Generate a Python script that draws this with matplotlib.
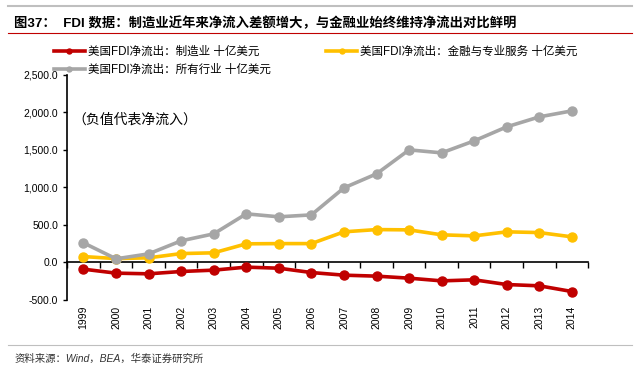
import numpy as np
import matplotlib.pyplot as plt
from matplotlib.lines import Line2D

plt.rcParams["font.family"] = ["Liberation Sans", "Noto Sans CJK SC"]
plt.rcParams["axes.unicode_minus"] = False

years = ["1999", "2000", "2001", "2002", "2003", "2004", "2005", "2006",
         "2007", "2008", "2009", "2010", "2011", "2012", "2013", "2014"]
manufacturing = [-91, -144, -153, -122, -104, -64, -78, -136,
                 -171, -184, -211, -247, -233, -296, -313, -389]
finance = [77, 50, 60, 117, 127, 247, 250, 250,
           407, 437, 433, 367, 353, 407, 397, 340]
all_industries = [260, 47, 113, 287, 380, 647, 607, 633,
                  993, 1180, 1500, 1460, 1620, 1807, 1940, 2020]

labels = ["美国FDI净流出：制造业 十亿美元",
          "美国FDI净流出：金融与专业服务 十亿美元",
          "美国FDI净流出：所有行业 十亿美元"]
colors = ["#C00000", "#FFC000", "#A6A6A6"]

title = "图37：  FDI 数据：制造业近年来净流入差额增大，与金融业始终维持净流出对比鲜明"
note = "（负值代表净流入）"
source = "资料来源：Wind，BEA，华泰证券研究所"

fig = plt.figure(figsize=(6.4, 3.67), dpi=100)
ax = fig.add_axes([0.105, 0.183, 0.814, 0.613])

x = np.arange(len(years))
series = [manufacturing, finance, all_industries]
handles = []
for vals, col, lab in zip(series, colors, labels):
    (h,) = ax.plot(x, vals, "-o", color=col, lw=2.6, ms=6.5, label=lab, zorder=3)
    handles.append(h)

ax.set_xlim(-0.5, len(years) - 0.5)
ax.set_ylim(-500, 2500)
ax.set_yticks(np.arange(-500, 2501, 500))
ax.yaxis.set_major_formatter(plt.FuncFormatter(lambda v, p: f"{v:,.1f}"))
ax.tick_params(axis="y", labelsize=7.5, length=3, width=1, colors="black")

for s in ["top", "right"]:
    ax.spines[s].set_visible(False)
ax.spines["left"].set_linewidth(1.2)
ax.spines["bottom"].set_position(("data", 0))
ax.spines["bottom"].set_linewidth(1.2)

ax.set_xticks(x)
ax.set_xticklabels(years, rotation=90, fontsize=7.5)
ax.tick_params(axis="x", which="major", length=0, pad=31)
ax.set_xticks(np.arange(-0.5, len(years)), minor=True)
ax.tick_params(axis="x", which="minor", length=4, width=1)

ax.text(0.01, 0.8, note, transform=ax.transAxes, fontsize=10, va="center")

# legend: red + grey in first column, yellow in second
order = [0, 2, 1]
fig.legend([handles[i] for i in order], [labels[i] for i in order],
           loc="upper left", bbox_to_anchor=(0.068, 0.904), ncol=2,
           frameon=False, fontsize=8.3, handlelength=2.7, handletextpad=0.25,
           columnspacing=4.8, labelspacing=0.55, markerscale=0.55)

fig.text(0.022, 1 - 23 / 367, title, fontsize=9.6, fontweight="bold", va="center")
fig.add_artist(Line2D([0.013, 0.987], [1 - 33 / 367] * 2, color="#C00000", lw=0.8))
fig.add_artist(Line2D([0.013, 0.987], [1 - 6 / 367] * 2, color="#BFBFBF", lw=1.5))
fig.add_artist(Line2D([0.013, 0.987], [1 - 345 / 367] * 2, color="#BFBFBF", lw=0.8))
fig.text(0.022, 1 - 359 / 367, source, fontsize=7.5, style="italic", va="center",
         color="#333333")

fig.savefig("out.png", dpi=100)
